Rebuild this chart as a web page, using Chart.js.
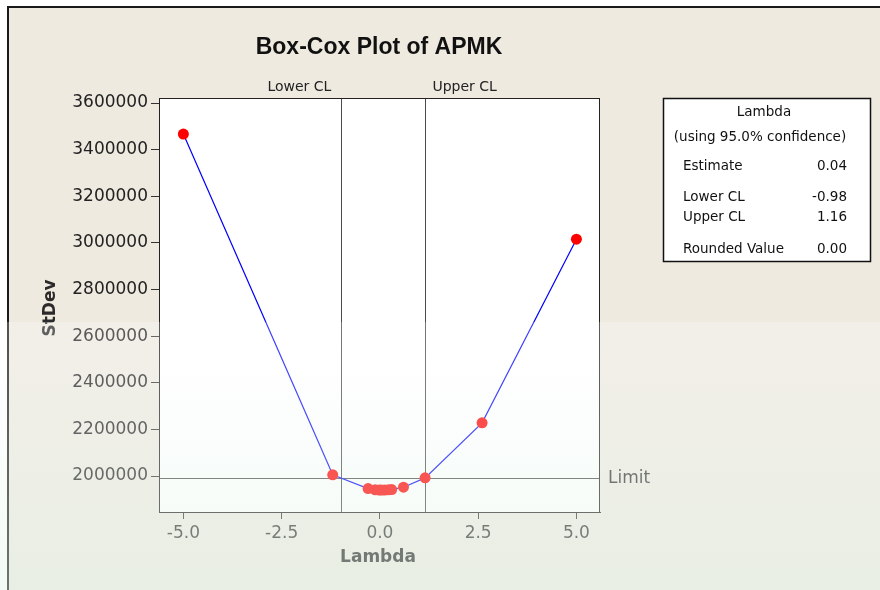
<!DOCTYPE html>
<html>
<head>
<meta charset="utf-8">
<script src="https://cdn.jsdelivr.net/npm/chart.js@4.4.1/dist/chart.umd.min.js"></script>
<style>
  html, body { margin: 0; padding: 0; background: #ffffff; }
  #wrap { width: 880px; height: 590px; }
</style>
</head>
<body>
<div id="wrap"><canvas id="c" width="880" height="590"></canvas></div>
<script>
// ---- Data ----
const lambdaValues = [-5, -1.2, -0.3, -0.12, -0.02, 0.04, 0.12, 0.22, 0.3, 0.6, 1.15, 2.6, 5];
const stdevValues  = [3467000, 2005000, 1946000, 1941000, 1940000, 1940000, 1940000, 1941000, 1942000, 1952000, 1992000, 2228000, 3016000];
const xTickValues = [-5, -2.5, 0, 2.5, 5];
const yTickValues = [2000000, 2200000, 2400000, 2600000, 2800000, 3000000, 3200000, 3400000, 3600000];
const lowerCL = -0.98;
const upperCL = 1.16;
const limitValue = 1991000;
const chartTitle = "Box-Cox Plot of APMK";
const xTitle = "Lambda";
const yTitle = "StDev";
const legendHeader = ["Lambda", "(using 95.0% confidence)"];
const legendLabels = ["Estimate", "Lower CL", "Upper CL", "Rounded Value"];
const legendValues = ["0.04", "-0.98", "1.16", "0.00"];

const FONT = "'DejaVu Sans', Verdana, sans-serif";

const points = lambdaValues.map((x, i) => ({ x: x, y: stdevValues[i] }));

const decor = {
  id: 'decor',
  beforeDraw(chart) {
    const ctx = chart.ctx, a = chart.chartArea;
    ctx.save();
    ctx.fillStyle = '#ffffff';
    ctx.fillRect(0, 0, 880, 590);
    ctx.fillStyle = '#EEEAE0';
    ctx.fillRect(8, 7, 880, 590);
    ctx.strokeStyle = '#1a1a1a';
    ctx.lineWidth = 2;
    ctx.beginPath();
    ctx.moveTo(8, 600); ctx.lineTo(8, 7); ctx.lineTo(890, 7);
    ctx.stroke();
    ctx.fillStyle = '#ffffff';
    ctx.fillRect(a.left, a.top, a.right - a.left, a.bottom - a.top);
    ctx.restore();
  },
  beforeDatasetsDraw(chart) {
    const ctx = chart.ctx, a = chart.chartArea;
    const xs = chart.scales.x, ys = chart.scales.y;
    ctx.save();
    ctx.strokeStyle = '#4a4a4a';
    ctx.lineWidth = 1;
    [lowerCL, upperCL].forEach(v => {
      const px = Math.round(xs.getPixelForValue(v)) + 0.5;
      ctx.beginPath(); ctx.moveTo(px, a.top); ctx.lineTo(px, a.bottom); ctx.stroke();
    });
    const py = Math.round(ys.getPixelForValue(limitValue)) + 0.5;
    ctx.beginPath(); ctx.moveTo(a.left, py); ctx.lineTo(a.right, py); ctx.stroke();
    ctx.restore();
  },
  afterDatasetsDraw(chart) {
    const ctx = chart.ctx, a = chart.chartArea;
    ctx.save();
    ctx.strokeStyle = '#222222';
    ctx.lineWidth = 1;
    ctx.strokeRect(a.left + 0.5, a.top + 0.5, a.right - a.left - 1, a.bottom - a.top);
    ctx.restore();
  },
  afterDraw(chart) {
    const ctx = chart.ctx, a = chart.chartArea;
    const xs = chart.scales.x, ys = chart.scales.y;
    ctx.save();
    // Title
    ctx.fillStyle = '#111111';
    ctx.font = "bold 23px 'Liberation Sans', Arial, sans-serif";
    ctx.textAlign = 'center';
    ctx.textBaseline = 'middle';
    ctx.fillText(chartTitle, 379, 48);

    // CL labels
    ctx.font = "14px " + FONT;
    ctx.fillStyle = '#222222';
    ctx.textAlign = 'right';
    ctx.fillText("Lower CL", xs.getPixelForValue(lowerCL) - 10, 87);
    ctx.textAlign = 'left';
    ctx.fillText("Upper CL", xs.getPixelForValue(upperCL) + 7, 87);

    // Limit label
    ctx.font = "17px " + FONT;
    ctx.fillStyle = '#333333';
    ctx.textAlign = 'left';
    ctx.fillText("Limit", 608, ys.getPixelForValue(limitValue));

    // Axis titles
    ctx.font = "bold 17px " + FONT;
    ctx.fillStyle = '#2a2a2a';
    ctx.textAlign = 'center';
    ctx.fillText(xTitle, 378, 558);
    ctx.save();
    ctx.translate(51, 308);
    ctx.rotate(-Math.PI / 2);
    ctx.fillText(yTitle, 0, 0);
    ctx.restore();

    // Legend box
    ctx.fillStyle = '#ffffff';
    ctx.fillRect(663, 98, 208, 164);
    ctx.strokeStyle = '#111111';
    ctx.lineWidth = 1.5;
    ctx.strokeRect(663.5, 98.5, 207, 163);
    ctx.fillStyle = '#111111';
    ctx.font = "13.5px " + FONT;
    ctx.textAlign = 'center';
    ctx.fillText(legendHeader[0], 764, 112);
    ctx.fillText(legendHeader[1], 760, 137);
    const rowY = [166, 197, 217, 249];
    legendLabels.forEach((lab, i) => {
      ctx.textAlign = 'left';
      ctx.fillText(lab, 683, rowY[i]);
      ctx.textAlign = 'right';
      ctx.fillText(legendValues[i], 847, rowY[i]);
    });

    // Washed-out lower band (scan overlay)
    ctx.fillStyle = 'rgba(255,255,255,0.25)';
    ctx.fillRect(0, 322, 880, 268);
    const g = ctx.createLinearGradient(0, 340, 0, 590);
    g.addColorStop(0, 'rgba(200,236,212,0)');
    g.addColorStop(1, 'rgba(200,236,212,0.22)');
    ctx.fillStyle = g;
    ctx.fillRect(0, 340, 880, 250);
    ctx.restore();
  }
};

new Chart(document.getElementById('c'), {
  type: 'scatter',
  data: {
    datasets: [{
      data: points,
      showLine: true,
      borderColor: '#0000FF',
      borderWidth: 1.2,
      tension: 0,
      pointRadius: 5.5,
      pointHoverRadius: 5.5,
      pointBackgroundColor: '#FF0000',
      pointBorderWidth: 0,
      clip: false
    }]
  },
  options: {
    responsive: false,
    animation: false,
    events: [],
    layout: { padding: { top: 98, right: 280, bottom: 0, left: 0 } },
    plugins: { legend: { display: false }, title: { display: false }, tooltip: { enabled: false } },
    scales: {
      x: {
        type: 'linear',
        min: -5.62,
        max: 5.6,
        afterBuildTicks(scale) { scale.ticks = xTickValues.map(v => ({ value: v })); },
        afterFit(scale) { scale.height = 78; },
        grid: { drawOnChartArea: false, drawTicks: true, tickLength: 7, color: '#333333', lineWidth: 1 },
        border: { display: true, color: '#222222', width: 1 },
        ticks: {
          padding: 4,
          color: '#333333',
          font: { family: FONT, size: 17 },
          callback: v => Number(v).toFixed(1)
        }
      },
      y: {
        type: 'linear',
        min: 1845600,
        max: 3621500,
        afterBuildTicks(scale) { scale.ticks = yTickValues.map(v => ({ value: v })); },
        afterFit(scale) { scale.width = 159; },
        grid: { drawOnChartArea: false, drawTicks: true, tickLength: 8, color: '#333333', lineWidth: 1 },
        border: { display: true, color: '#222222', width: 1 },
        ticks: {
          padding: 3,
          color: '#222222',
          font: { family: FONT, size: 17 },
          callback: v => String(Math.round(v))
        }
      }
    }
  },
  plugins: [decor]
});
</script>
</body>
</html>
